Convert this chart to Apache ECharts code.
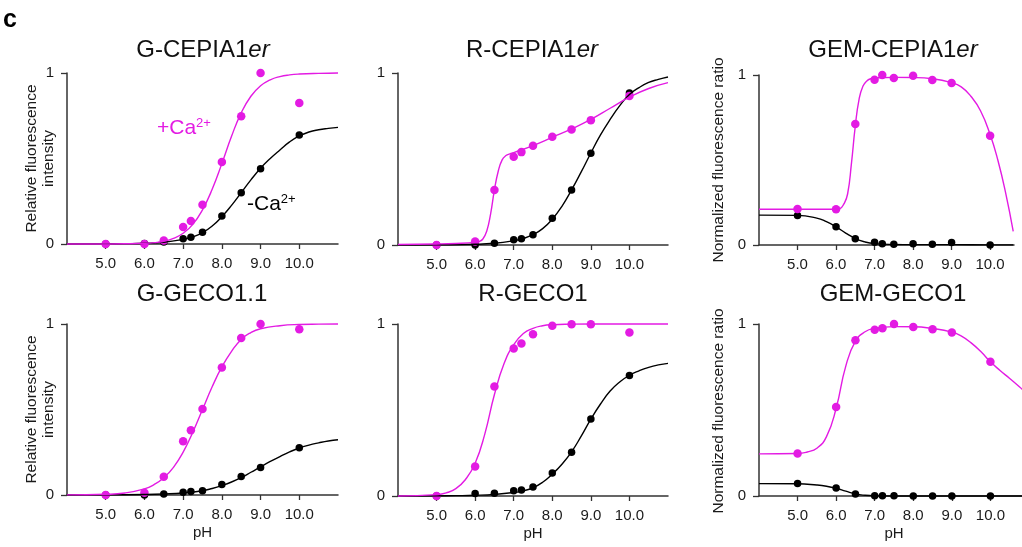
<!DOCTYPE html>
<html>
<head>
<meta charset="utf-8">
<script src="https://cdn.jsdelivr.net/npm/echarts@6/dist/echarts.min.js"></script>
<style>html,body{margin:0;padding:0;background:#fff}#c{width:1022px;height:547px}</style>
</head>
<body>
<div id="c"></div>
<script>
// ---- data ----
const phPoints = [5.0, 6.0, 6.5, 7.0, 7.2, 7.5, 8.0, 8.5, 9.0, 10.0];
const xTickValues = [5, 6, 7, 8, 9, 10];
const yTickValues = [0, 1];

const titles = ['G-CEPIA1|er', 'R-CEPIA1|er', 'GEM-CEPIA1|er', 'G-GECO1.1', 'R-GECO1', 'GEM-GECO1'];

// measured points (+Ca2+ / -Ca2+)
const gCepiaCa   = [0, 0, 0.02, 0.10, 0.135, 0.23, 0.48, 0.747, 1.0, 0.825];
const gCepiaFree = [0, 0.003, 0.012, 0.03, 0.04, 0.068, 0.164, 0.30, 0.44, 0.637];
const rCepiaCa   = [0, 0.02, 0.32, 0.513, 0.54, 0.577, 0.629, 0.672, 0.726, 0.867];
const rCepiaFree = [0, 0, 0.01, 0.031, 0.037, 0.06, 0.156, 0.32, 0.533, 0.884];
const gemCepiaCa   = [0.212, 0.21, 0.712, 0.972, 1.0, 0.982, 0.996, 0.97, 0.953, 0.643];
const gemCepiaFree = [0.174, 0.108, 0.037, 0.016, 0.008, 0.004, 0.008, 0.004, 0.014, 0];
const gGecoCa   = [0, 0.013, 0.107, 0.314, 0.378, 0.503, 0.745, 0.918, 1.0, 0.969];
const gGecoFree = [0, 0, 0.006, 0.016, 0.02, 0.025, 0.062, 0.108, 0.161, 0.277];
const rGecoCa   = [0, 0.171, 0.637, 0.858, 0.887, 0.94, 0.99, 0.998, 0.998, 0.95];
const rGecoFree = [0, 0.014, 0.016, 0.031, 0.035, 0.052, 0.134, 0.254, 0.447, 0.701];
const gemGecoCa   = [0.247, 0.518, 0.905, 0.967, 0.975, 1.0, 0.983, 0.969, 0.951, 0.78];
const gemGecoFree = [0.072, 0.047, 0.012, 0.002, 0.002, 0.001, 0, 0, 0, 0];

// fitted curves as [pH, value]
const gCepiaCaFit = [[4,0],[5,0.0003],[5.5,0.0012],[6,0.004],[6.25,0.008],[6.5,0.016],[6.75,0.033],[7,0.063],[7.25,0.115],[7.5,0.2],[7.75,0.32],[8,0.47],[8.25,0.63],[8.5,0.767],[8.75,0.864],[9,0.925],[9.25,0.96],[9.5,0.979],[9.75,0.989],[10,0.994],[10.5,0.998],[11,1.0]];
const gCepiaFreeFit = [[4,0],[5,0.001],[5.5,0.002],[6,0.004],[6.5,0.01],[7,0.027],[7.25,0.042],[7.5,0.066],[7.75,0.105],[8,0.16],[8.25,0.226],[8.5,0.30],[8.75,0.375],[9,0.443],[9.25,0.50],[9.5,0.55],[9.75,0.597],[10,0.632],[10.25,0.655],[10.5,0.668],[10.75,0.676],[11,0.682]];
const rCepiaCaFit = [[4,0.003],[5,0.006],[5.5,0.009],[6,0.015],[6.1,0.02],[6.2,0.035],[6.3,0.08],[6.4,0.18],[6.5,0.32],[6.6,0.43],[6.7,0.495],[6.8,0.52],[6.9,0.53],[7,0.537],[7.5,0.578],[8,0.626],[8.5,0.675],[9,0.73],[9.5,0.795],[10,0.86],[10.5,0.91],[11,0.944]];
const rCepiaFreeFit = [[4,0],[5,0.001],[6,0.004],[6.5,0.01],[7,0.025],[7.25,0.038],[7.5,0.06],[7.75,0.095],[8,0.15],[8.25,0.225],[8.5,0.32],[8.75,0.425],[9,0.535],[9.25,0.64],[9.5,0.73],[9.75,0.81],[10,0.875],[10.25,0.915],[10.5,0.945],[10.75,0.963],[11,0.977]];
const gemCepiaCaFit = [[4,0.21],[5,0.21],[6,0.21],[6.1,0.214],[6.2,0.24],[6.3,0.30],[6.4,0.48],[6.5,0.70],[6.6,0.86],[6.7,0.935],[6.8,0.965],[6.9,0.978],[7,0.982],[7.5,0.986],[8,0.985],[8.5,0.978],[9,0.955],[9.25,0.93],[9.5,0.875],[9.75,0.79],[10,0.65],[10.2,0.5],[10.4,0.31],[10.6,0.08]];
const gemCepiaFreeFit = [[4,0.176],[5,0.174],[5.5,0.158],[5.75,0.137],[6,0.107],[6.25,0.07],[6.5,0.038],[6.75,0.018],[7,0.008],[7.5,0.003],[8,0.002],[9,0.002],[10,0.001],[10.6,0.001]];
const gGecoCaFit = [[4,0.0005],[5,0.004],[5.5,0.012],[6,0.036],[6.25,0.061],[6.5,0.101],[6.75,0.162],[7,0.251],[7.25,0.367],[7.5,0.5],[7.75,0.633],[8,0.749],[8.25,0.84],[8.5,0.91],[8.75,0.95],[9,0.972],[9.5,0.99],[10,0.997],[10.5,0.999],[11,1.0]];
const gGecoFreeFit = [[4,0],[5,0.001],[6,0.003],[6.5,0.006],[7,0.012],[7.5,0.025],[7.75,0.038],[8,0.055],[8.25,0.076],[8.5,0.102],[8.75,0.133],[9,0.165],[9.25,0.196],[9.5,0.225],[9.75,0.252],[10,0.275],[10.25,0.292],[10.5,0.305],[10.75,0.316],[11,0.323]];
const rGecoCaFit = [[4,0.0003],[5,0.008],[5.25,0.018],[5.5,0.043],[5.75,0.096],[6,0.19],[6.25,0.36],[6.5,0.59],[6.75,0.77],[7,0.88],[7.25,0.945],[7.5,0.975],[7.75,0.99],[8,0.996],[8.5,0.999],[9,1],[10,1],[11,1]];
const rGecoFreeFit = [[4,0],[5,0.001],[5.5,0.002],[6,0.004],[6.5,0.009],[7,0.02],[7.25,0.03],[7.5,0.048],[7.75,0.08],[8,0.127],[8.25,0.185],[8.5,0.257],[8.75,0.348],[9,0.447],[9.25,0.535],[9.5,0.61],[9.75,0.663],[10,0.702],[10.25,0.728],[10.5,0.748],[10.75,0.762],[11,0.771]];
const gemGecoCaFit = [[4,0.245],[5,0.247],[5.25,0.256],[5.5,0.278],[5.75,0.345],[6,0.51],[6.25,0.755],[6.5,0.9],[6.75,0.955],[7,0.975],[7.5,0.985],[8,0.984],[8.5,0.974],[9,0.953],[9.25,0.93],[9.5,0.89],[9.75,0.84],[10,0.78],[10.25,0.73],[10.5,0.683],[10.75,0.635],[11,0.585]];
const gemGecoFreeFit = [[4,0.072],[5,0.071],[5.5,0.064],[5.75,0.057],[6,0.045],[6.25,0.028],[6.5,0.012],[6.75,0.004],[7,0.001],[8,0],[11,0]];

// ---- styling / layout ----
const MAG = '#e31be3';
const BLK = '#000000';
const AX = '#333333';
const FONT = '"Liberation Sans", Arial, Helvetica, sans-serif';

const panels = [
  {grid:{left:67, top:73, width:271, height:171}, xmax:11, ca:gCepiaCa, free:gCepiaFree, caFit:gCepiaCaFit, freeFit:gCepiaFreeFit, tx:203, ty:50},
  {grid:{left:398, top:73, width:270, height:172}, xmax:11, ca:rCepiaCa, free:rCepiaFree, caFit:rCepiaCaFit, freeFit:rCepiaFreeFit, tx:532, ty:50},
  {grid:{left:759, top:75, width:255, height:170}, xmax:10.62, ca:gemCepiaCa, free:gemCepiaFree, caFit:gemCepiaCaFit, freeFit:gemCepiaFreeFit, tx:893, ty:50},
  {grid:{left:67, top:324, width:271, height:171}, xmax:11, ca:gGecoCa, free:gGecoFree, caFit:gGecoCaFit, freeFit:gGecoFreeFit, tx:202, ty:294, ph:true},
  {grid:{left:398, top:324, width:270, height:172}, xmax:11, ca:rGecoCa, free:rGecoFree, caFit:rGecoCaFit, freeFit:rGecoFreeFit, tx:533, ty:294, ph:true},
  {grid:{left:759, top:324, width:270, height:172}, xmax:11, ca:gemGecoCa, free:gemGecoFree, caFit:gemGecoCaFit, freeFit:gemGecoFreeFit, tx:893, ty:294, ph:true}
];

const grids = [], xAxes = [], yAxes = [], series = [], graphics = [];
panels.forEach((p, i) => {
  grids.push(Object.assign({outerBoundsMode:'none', containLabel:false}, p.grid));
  xAxes.push({
    type:'value', gridIndex:i, min:4, max:p.xmax, interval:1,
    axisLine:{show:true, onZero:false, lineStyle:{color:AX, width:1.5}},
    axisTick:{show:true, length:5, customValues:xTickValues, lineStyle:{color:AX, width:1.3}},
    axisLabel:{show:true, customValues:xTickValues, formatter:v => Number(v).toFixed(1), fontSize:15, color:'#1a1a1a', margin:12, fontFamily:FONT},
    splitLine:{show:false},
    name: p.ph ? 'pH' : '', nameLocation:'middle', nameGap:30,
    nameTextStyle:{fontSize:15, color:'#1a1a1a', fontFamily:FONT}
  });
  yAxes.push({
    type:'value', gridIndex:i, min:0, max:1, interval:1,
    axisLine:{show:true, lineStyle:{color:AX, width:1.5}},
    axisTick:{show:true, length:6, customValues:yTickValues, lineStyle:{color:AX, width:1.3}},
    axisLabel:{show:true, customValues:yTickValues, fontSize:15, color:'#1a1a1a', margin:13, fontFamily:FONT},
    splitLine:{show:false}
  });
  const line = (data, color) => ({
    type:'line', xAxisIndex:i, yAxisIndex:i, data:data, smooth:0.5,
    showSymbol:false, symbol:'none', clip:false, silent:true,
    lineStyle:{color:color, width:1.4}
  });
  const dots = (vals, color, size) => ({
    type:'scatter', xAxisIndex:i, yAxisIndex:i,
    data: phPoints.map((x, k) => [x, vals[k]]),
    symbolSize:size, clip:false, silent:true,
    itemStyle:{color:color, opacity:1}
  });
  series.push(line(p.freeFit, BLK), line(p.caFit, MAG), dots(p.free, BLK, 7.5), dots(p.ca, MAG, 8.5));

  const parts = titles[i].split('|');
  graphics.push({
    type:'text', x:p.tx, y:p.ty, silent:true,
    style:{
      text: parts.length > 1 ? '{n|' + parts[0] + '}{i|' + parts[1] + '}' : '{n|' + parts[0] + '}',
      rich:{n:{fontSize:24, fontFamily:FONT, fill:'#111'}, i:{fontSize:24, fontFamily:FONT, fontStyle:'italic', fill:'#111'}},
      textAlign:'center', textVerticalAlign:'middle'
    }
  });
});

// y-axis names
[[40, 158.5], [40, 409.5]].forEach(([x, y]) => graphics.push({
  type:'text', x:x, y:y, rotation:Math.PI/2, silent:true,
  style:{text:'Relative fluorescence\nintensity', fontSize:15.5, lineHeight:17.5, fontFamily:FONT, fill:'#1a1a1a', textAlign:'center', textVerticalAlign:'middle'}
}));
[[719, 160], [719, 411]].forEach(([x, y]) => graphics.push({
  type:'text', x:x, y:y, rotation:Math.PI/2, silent:true,
  style:{text:'Normalized fluorescence ratio', fontSize:15.5, fontFamily:FONT, fill:'#1a1a1a', textAlign:'center', textVerticalAlign:'middle'}
}));

// panel letter
graphics.push({type:'text', x:10, y:20, silent:true,
  style:{text:'c', fontSize:25, fontWeight:'bold', fontFamily:FONT, fill:'#000', textAlign:'center', textVerticalAlign:'middle'}});

// Ca annotations
const caLabel = (x, y, sign, color) => ({
  type:'text', x:x, y:y, silent:true,
  style:{
    text:'{a|' + sign + 'Ca}{s|2+}',
    rich:{
      a:{fontSize:21, lineHeight:22, fontFamily:FONT, fill:color},
      s:{fontSize:13, lineHeight:13, fontFamily:FONT, fill:color, verticalAlign:'top'}
    },
    textAlign:'left', textVerticalAlign:'middle'
  }
});
graphics.push(caLabel(157, 128, '+', MAG));
graphics.push(caLabel(247, 204, '-', '#000'));

const chart = echarts.init(document.getElementById('c'), null, {renderer:'canvas'});
chart.setOption({
  animation:false,
  backgroundColor:'#ffffff',
  grid:grids, xAxis:xAxes, yAxis:yAxes, series:series, graphic:graphics
});
</script>
</body>
</html>
